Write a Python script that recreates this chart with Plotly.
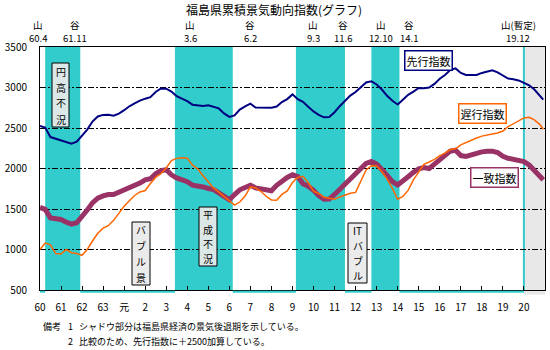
import pandas as pd
import plotly.graph_objects as go

FONT = "Noto Sans CJK JP"

# ---------------- data ----------------
dates = list(pd.date_range("1985-01-01", "2008-10-01", freq="QS").strftime("%Y-%m-%d")) + ["2008-12-01"]

# 先行指数 (+2500)
leading = [
    2525, 2505, 2388, 2366,  2353, 2330, 2305, 2330,  2410, 2480, 2580, 2642,
    2662, 2664, 2652, 2678,  2720, 2768, 2803, 2838,  2862, 2880, 2944, 2988,
    2985, 2950, 2892, 2860,  2832, 2788, 2780, 2773,  2780, 2763, 2742, 2680,
    2637, 2656, 2728, 2767,  2800, 2752, 2750, 2742,  2749, 2765, 2820, 2857,
    2915, 2855, 2823, 2762,  2705, 2662, 2632, 2635,  2695, 2769, 2833, 2900,
    2945, 3008, 3062, 3076,  3037, 2975, 2897, 2837,  2790, 2850, 2910, 2950,
    2994, 2990, 3000, 3045,  3108, 3155, 3215, 3236,  3180, 3154, 3155, 3155,
    3180, 3196, 3212, 3187,  3152, 3110, 3102, 3087,  3057, 3027, 2975, 2900, 2850,
]
# 一致指数
coincident = [
    1519, 1495, 1390, 1375,  1370, 1338, 1314, 1330,  1400, 1487, 1576, 1633,
    1662, 1679, 1678, 1705,  1732, 1757, 1781, 1820,  1860, 1874, 1935, 1973,
    1985, 1922, 1884, 1865,  1837, 1794, 1786, 1772,  1753, 1740, 1700, 1658,
    1615, 1678, 1737, 1766,  1792, 1760, 1753, 1746,  1725, 1792, 1846, 1890,
    1922, 1900, 1813, 1781,  1731, 1665, 1621, 1623,  1680, 1744, 1797, 1860,
    1935, 2000, 2063, 2088,  2055, 1987, 1916, 1839,  1797, 1840, 1899, 1953,
    1997, 2012, 2000, 2054,  2109, 2156, 2214, 2226,  2160, 2150, 2171, 2190,
    2205, 2214, 2214, 2197,  2150, 2126, 2117, 2105,  2085, 2044, 1980, 1916, 1860,
]
# 遅行指数
lagging = [
    1000, 1080, 1058, 950,   945, 1000, 960, 950,    928, 1000, 1105, 1200,
    1264, 1294, 1360, 1448,  1534, 1602, 1667, 1710,  1728, 1815, 1890, 1935,
    2007, 2098, 2125, 2133,  2128, 2041, 1997, 1911,  1835, 1760, 1708, 1656,
    1597, 1548, 1586, 1660,  1774, 1760, 1719, 1657,  1612, 1609, 1680, 1723,
    1826, 1889, 1903, 1827,  1721, 1692, 1645, 1631,  1622, 1649, 1672, 1695,
    1705, 1855, 1982, 2034,  2031, 1962, 1870, 1755,  1620, 1655, 1730, 1860,
    1960, 2051, 2080, 2113,  2159, 2190, 2234, 2244,  2292, 2320, 2357, 2377,
    2400, 2416, 2426, 2439,  2463, 2516, 2551, 2590,  2625, 2632, 2600, 2545, 2485,
]

rec_peaks = ["1985-04-01", "1991-06-01", "1997-03-01", "2000-10-01"]
rec_troughs = ["1986-11-01", "1994-02-01", "1999-06-01", "2002-01-01"]
prov_peak = "2007-12-01"

tick_dates = [f"{y}-01-01" for y in range(1985, 2009)]
tick_text = ["60", "61", "62", "63", "元"] + [str(i) for i in range(2, 21)]

turn_kind = ["山", "谷", "山", "谷", "山", "谷", "山", "谷", "山(暫定)"]
turn_label = ["60.4", "61.11", "3.6", "6.2", "9.3", "11.6", "12.10", "14.1", "19.12"]

period_names = [["円", "高", "不", "況"], ["バ", "ブ", "ル", "景"],
                ["平", "成", "不", "況"], ["IT", "バ", "ブ", "ル"]]

# ---------------- layout helpers ----------------
L, R, T, B = 40, 5, 47, 60
W, H = 550, 350
PW, PH = W - L - R, H - T - B


def xp(px):
    return (px - L) / PW


def yp(py):
    return (H - B - py) / PH


turn_x_px = [38, 75, 190, 250, 313, 343, 381, 409, 518]
# (x0, x1, y0, y1, fill) in pixels for the vertical period boxes
period_boxes = [(52, 69, 63, 127, "#DCE8E8"), (132, 150, 222, 285, "#EBEBEB"),
                (199, 217, 207, 266, "#DCE8E8"), (348, 367, 223, 283, "#EBEBEB")]

CYAN = "#33CCCC"
NAVY = "#000080"
PLUM = "#993366"
ORANGE = "#FF6600"

fig = go.Figure()
fig.add_trace(go.Scatter(x=dates, y=leading, mode="lines", name="先行指数",
                         line=dict(color=NAVY, width=2)))
fig.add_trace(go.Scatter(x=dates, y=coincident, mode="lines", name="一致指数",
                         line=dict(color=PLUM, width=5)))
fig.add_trace(go.Scatter(x=dates, y=lagging, mode="lines", name="遅行指数",
                         line=dict(color=ORANGE, width=1.5)))

# recession shading
one_month = pd.offsets.MonthBegin(1)
shade_ends = []
for p, t in zip(rec_peaks, rec_troughs):
    end = (pd.Timestamp(t) + one_month).strftime("%Y-%m-%d")
    shade_ends.append(end)
    fig.add_shape(type="rect", xref="x", yref="paper", x0=p, x1=end, y0=0, y1=1,
                  fillcolor=CYAN, line_width=0, layer="between")

prov_start = (pd.Timestamp(prov_peak) + one_month).strftime("%Y-%m-%d")
fig.add_shape(type="rect", xref="x", yref="paper", x0=prov_start, x1="2009-01-01",
              y0=-0.02, y1=1, fillcolor="#E8E8E8", line_width=0, layer="between")
fig.add_shape(type="line", xref="x", yref="paper", x0=prov_start, x1=prov_start,
              y0=0, y1=1, line=dict(color=CYAN, width=2), layer="between")

# thin cyan strip under the axis in expansion periods
starts = ["1985-01-01"] + shade_ends
stops = rec_peaks + [prov_start]
for s, e in zip(starts, stops):
    fig.add_shape(type="rect", xref="x", yref="paper", x0=s, x1=e, y0=-0.011, y1=-0.003,
                  fillcolor=CYAN, line_width=0, layer="above")


def label(txt, px, py, size, anchor="center", **kw):
    kw.setdefault("borderpad", 0)
    fig.add_annotation(x=xp(px), y=yp(py), xref="paper", yref="paper", text=txt,
                       xanchor=anchor, yanchor="middle", showarrow=False,
                       font=dict(size=size, family=FONT, color="black"), **kw)


# peak / trough labels
for k, lab, px in zip(turn_kind, turn_label, turn_x_px):
    label(k, px, 24.5, 9.5)
    label(lab, px, 38, 9.5)

# title
label("福島県累積景気動向指数(グラフ)", 274, 9, 12)

# vertical period boxes (one character per line)
for chars, (x0, x1, y0, y1, bg) in zip(period_names, period_boxes):
    fig.add_shape(type="rect", xref="paper", yref="paper",
                  x0=xp(x0), x1=xp(x1), y0=yp(y1), y1=yp(y0),
                  fillcolor=bg, line=dict(color="black", width=1), layer="above")
    step = (y1 - y0) / len(chars)
    cx = (x0 + x1) / 2
    for i, ch in enumerate(chars):
        label(ch, cx, y0 + step * (i + 0.5), 10)

# series labels
legend_boxes = [
    ("先行指数", 428, 61, NAVY),
    ("遅行指数", 482, 114, ORANGE),
    ("一致指数", 494, 177.5, PLUM),
]
for txt, cx, cy, col in legend_boxes:
    label(txt, cx, cy, 11, bgcolor="white", bordercolor=col, borderwidth=1.5, borderpad=1)

# footnotes
notes = [
    ("備考", 42, 326), ("1", 67, 326), ("シャドウ部分は福島県経済の景気後退期を示している。", 78, 326),
    ("2", 67, 341), ("比較のため、先行指数に＋2500加算している。", 78, 341),
]
for txt, px, py in notes:
    label(txt, px, py, 9, anchor="left")

fig.update_layout(
    width=W, height=H,
    margin=dict(l=L, r=R, t=T, b=B),
    paper_bgcolor="white", plot_bgcolor="white",
    showlegend=False,
    font=dict(family=FONT, color="black"),
    xaxis=dict(
        type="date", range=["1985-01-01", "2009-01-01"],
        tickmode="array", tickvals=tick_dates, ticktext=tick_text,
        ticks="inside", ticklen=4, tickcolor="black", tickwidth=1,
        showline=True, linecolor="black", linewidth=1, mirror=True,
        showgrid=False, zeroline=False,
        tickfont=dict(size=10, family=FONT, color="black"),
        ticklabelstandoff=8,
    ),
    yaxis=dict(
        range=[500, 3500], tickmode="linear", tick0=500, dtick=500,
        showline=True, linecolor="black", linewidth=1, mirror=True,
        showgrid=True, gridcolor="black", gridwidth=1, griddash="6px,2px,2px,2px",
        zeroline=False, ticks="",
        tickfont=dict(size=10, family=FONT, color="black"),
        ticklabelstandoff=10,
    ),
)

fig.write_html("out.html")
